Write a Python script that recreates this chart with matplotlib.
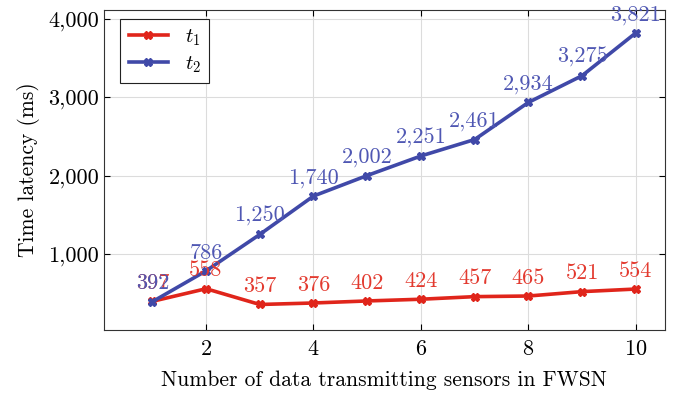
import matplotlib
matplotlib.use("Agg")
import matplotlib.pyplot as plt
from matplotlib.ticker import FuncFormatter

plt.rcParams["font.family"] = "serif"
plt.rcParams["font.serif"] = ["cmr10", "DejaVu Serif"]
plt.rcParams["mathtext.fontset"] = "cm"
plt.rcParams["axes.formatter.use_mathtext"] = True

sensors = [1, 2, 3, 4, 5, 6, 7, 8, 9, 10]
t1 = [397, 558, 357, 376, 402, 424, 457, 465, 521, 554]
t2 = [392, 786, 1250, 1740, 2002, 2251, 2461, 2934, 3275, 3821]

RED = "#e0251b"
BLUE = "#4049a8"
RED_TXT = "#e33a2f"
BLUE_TXT = "#4f57b3"

fig = plt.figure(figsize=(6.77, 3.93), dpi=100)
ax = fig.add_axes([0.1536, 0.160, 0.8284, 0.815])

ax.plot(sensors, t1, color=RED, lw=2.6, marker="X", ms=6, label="$t_1$", zorder=3)
ax.plot(sensors, t2, color=BLUE, lw=2.6, marker="X", ms=6, label="$t_2$", zorder=3)

# value labels above each point
for x, y in zip(sensors, t1):
    ax.annotate(f"{y:,}", (x, y), xytext=(0, 6), textcoords="offset points",
                ha="center", va="bottom", color=RED_TXT, fontsize=16)
for x, y in zip(sensors, t2):
    ax.annotate(f"{y:,}", (x, y), xytext=(0, 6), textcoords="offset points",
                ha="center", va="bottom", color=BLUE_TXT, fontsize=16)

ax.set_xlim(0.1, 10.54)
ax.set_ylim(30, 4115)
ax.set_xticks([2, 4, 6, 8, 10])
ax.set_yticks([1000, 2000, 3000, 4000])
ax.yaxis.set_major_formatter(FuncFormatter(lambda v, p: f"{v:,.0f}"))
ax.tick_params(direction="in", top=True, right=True, labelsize=16, length=4)
ax.tick_params(axis="x", pad=7)
ax.grid(True, color="#dcdcdc", lw=0.8)
ax.set_axisbelow(True)
for s in ax.spines.values():
    s.set_color("#333333")

ax.set_xlabel("Number of data transmitting sensors in FWSN", fontsize=15.5, labelpad=8)
ax.set_ylabel("Time latency (ms)", fontsize=15.5, labelpad=6)

leg = ax.legend(loc="upper left", fontsize=15, fancybox=False, edgecolor="#222222",
                framealpha=1, handlelength=1.9, borderaxespad=0.3, labelspacing=0.3,
                borderpad=0.4, bbox_to_anchor=(0.018, 0.99))
leg.get_frame().set_linewidth(0.8)

fig.savefig("out.png", dpi=100)
